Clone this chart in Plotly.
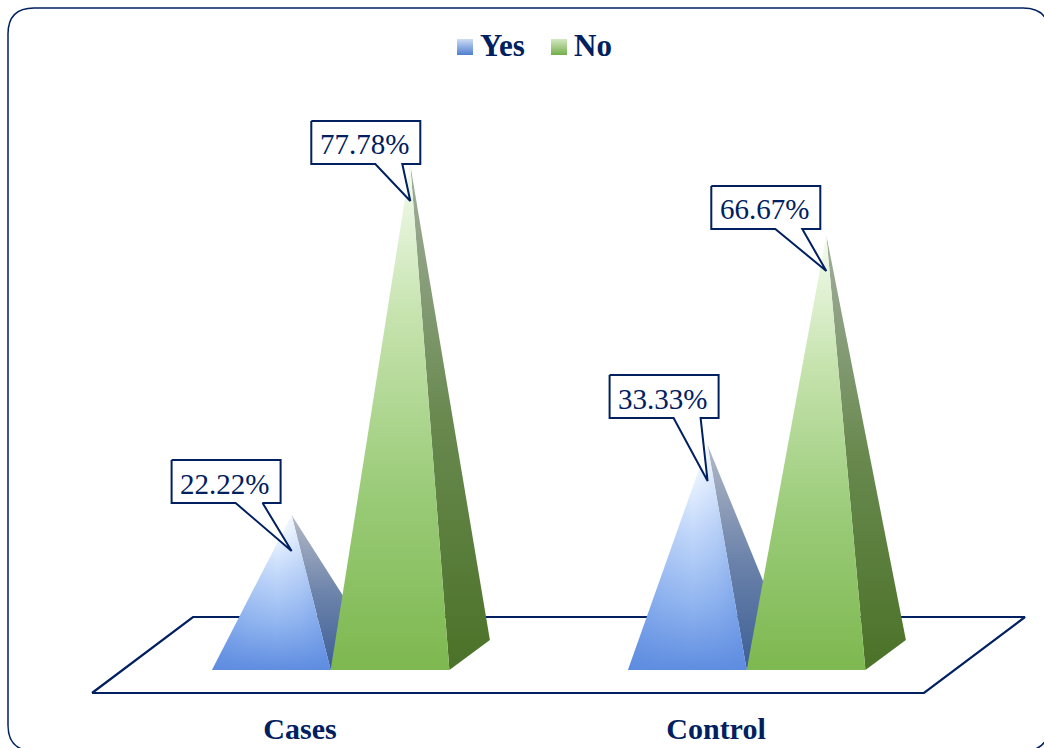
import plotly.graph_objects as go

# Chart data
categories = ["Cases", "Control"]
series_names = ["Yes", "No"]
yes_values = [22.22, 33.33]
no_values = [77.78, 66.67]

NAVY = "#002060"
W, H = 1044, 748

# Axis scales: pixels per category step and pixels per percentage point
X_SCALE = 416.0
Y_SCALE = 6.3
X_ORIGIN_PX = 300.0
Y_ORIGIN_PX = 655.0


def dx(px):
    return px / X_SCALE


def dy(px):
    return px / Y_SCALE


def abs_x(px):
    return (px - X_ORIGIN_PX) / X_SCALE


def abs_y(px):
    return (Y_ORIGIN_PX - px) / Y_SCALE


# Pyramid and floor proportions
BAR_WIDTH = dx(118.7)
BAR_SHIFT = dx(-88)
DEPTH_X = dx(40.5)
DEPTH_Y = dy(30)
FLOOR_DEPTH_X = dx(101)
FLOOR_HALF_Y = dy(38)

STYLE = {
    "Yes": {
        "front": [[0, "#5f8de0"], [0.3, "#92b6f0"], [0.65, "#c8dcfb"], [0.88, "#eef6ff"], [1, "#ffffff"]],
        "side": [[0, "#3c5e96"], [0.5, "#6d84ab"], [1, "#b4b9c6"]],
        "edge": "rgba(91,137,224,0.45)",
        "swatch": [[0, "#4f7fcf"], [1, "#cddcf3"]],
    },
    "No": {
        "front": [[0, "#7eb850"], [0.35, "#9acb78"], [0.7, "#c6e3ae"], [0.93, "#e9f6e0"], [1, "#f6fcf2"]],
        "side": [[0, "#4b7228"], [0.5, "#69894f"], [1, "#a2ae9e"]],
        "edge": None,
        "swatch": [[0, "#74ae4c"], [1, "#d3e8c2"]],
    },
}

# Callout box placement relative to its pointer tip: (left, top) in pixels
CALLOUT_OFFSETS = {
    ("Cases", "Yes"): (-120, -91),
    ("Cases", "No"): (-99, -80),
    ("Control", "Yes"): (-98, -106),
    ("Control", "No"): (-115, -85),
}
BOX_W, BOX_H = 109, 43
WEDGE_LEFT, WEDGE_RIGHT = 64, 91
TIP_DROP = dy(36)

fig = go.Figure()


def polygon(xs, ys, **kw):
    fig.add_trace(go.Scatter(x=xs, y=ys, hoverinfo="skip", showlegend=False, **kw))


# Floor
floor_x = [-0.5, 1.5, 1.5 + FLOOR_DEPTH_X, -0.5 + FLOOR_DEPTH_X, -0.5]
floor_y = [-FLOOR_HALF_Y, -FLOOR_HALF_Y, FLOOR_HALF_Y, FLOOR_HALF_Y, -FLOOR_HALF_Y]
polygon(floor_x, floor_y, mode="lines", line=dict(color=NAVY, width=2.2), fill="toself", fillcolor="white")


def pyramid(left, value, style):
    right = left + BAR_WIDTH
    front_y = -DEPTH_Y / 2
    apex_x = left + BAR_WIDTH / 2 + DEPTH_X / 2
    # Side face
    polygon(
        [right, right + DEPTH_X, apex_x, right],
        [front_y, front_y + DEPTH_Y, value, front_y],
        mode="none", fill="toself",
        fillgradient=dict(type="vertical", colorscale=style["side"]),
    )
    # Front face
    polygon(
        [left, right, apex_x, left],
        [front_y, front_y, value, front_y],
        mode="none", fill="toself",
        fillgradient=dict(type="vertical", colorscale=style["front"]),
    )
    if style["edge"]:
        # Corners of the front face deepen toward the base edges
        polygon(
            [left, right, apex_x, left],
            [front_y, front_y, value, front_y],
            mode="none", fill="toself",
            fillgradient=dict(
                type="horizontal",
                colorscale=[[0, style["edge"]], [0.3, "rgba(91,137,224,0.12)"],
                            [0.55, "rgba(91,137,224,0)"], [0.75, "rgba(91,137,224,0.12)"],
                            [1, style["edge"]]],
            ),
        )


for i, cat in enumerate(categories):
    left = i + BAR_SHIFT
    pyramid(left, yes_values[i], STYLE["Yes"])
    pyramid(left + BAR_WIDTH, no_values[i], STYLE["No"])


def callout(cat, name, tip_x, tip_y, value):
    ox, oy = CALLOUT_OFFSETS[(cat, name)]
    bx, by = tip_x + dx(ox), tip_y - dy(oy)
    r, b = bx + dx(BOX_W), by - dy(BOX_H)
    xs = [bx, r, r, bx + dx(WEDGE_RIGHT), tip_x, bx + dx(WEDGE_LEFT), bx, bx]
    ys = [by, by, b, b, tip_y, b, b, by]
    polygon(xs, ys, mode="lines", line=dict(color=NAVY, width=2), fill="toself", fillcolor="white")
    fig.add_annotation(
        x=(bx + r) / 2, y=(by + b) / 2, text=f"{value:.2f}%", showarrow=False,
        font=dict(family="Liberation Serif", size=29, color=NAVY),
        xanchor="center", yanchor="middle", xshift=-1.5, yshift=-2,
    )


for i, cat in enumerate(categories):
    apex_offset = BAR_WIDTH / 2 + DEPTH_X / 2
    left = i + BAR_SHIFT
    callout(cat, "Yes", left + apex_offset, yes_values[i] - TIP_DROP, yes_values[i])
    callout(cat, "No", left + BAR_WIDTH + apex_offset, no_values[i] - TIP_DROP, no_values[i])

# Legend entries
legend_x = {"Yes": (457, 478), "No": (551, 572)}
for name in series_names:
    sx, tx = legend_x[name]
    x0, x1 = abs_x(sx), abs_x(sx + 16)
    y0, y1 = abs_y(55), abs_y(39)
    polygon([x0, x1, x1, x0, x0], [y0, y0, y1, y1, y0], mode="none", fill="toself",
            fillgradient=dict(type="vertical", colorscale=STYLE[name]["swatch"]))
    fig.add_annotation(
        x=abs_x(tx), y=abs_y(45), text=f"<b>{name}</b>", showarrow=False,
        font=dict(family="Liberation Serif", size=31, color=NAVY),
        xanchor="left", yanchor="middle",
    )

# Rounded chart frame, running slightly past the lower right of the page
fl, ft, fr, fb, rad = 8 / W, 1 - 8 / H, 1049 / W, 1 - 751 / H, 26
rx, ry = rad / W, rad / H
frame = (
    f"M {fl + rx} {ft} L {fr - rx} {ft} Q {fr} {ft} {fr} {ft - ry} "
    f"L {fr} {fb + ry} Q {fr} {fb} {fr - rx} {fb} "
    f"L {fl + rx} {fb} Q {fl} {fb} {fl} {fb + ry} "
    f"L {fl} {ft - ry} Q {fl} {ft} {fl + rx} {ft} Z"
)

fig.update_layout(
    width=W, height=H,
    margin=dict(l=0, r=0, t=0, b=0),
    paper_bgcolor="white", plot_bgcolor="white",
    showlegend=False,
    shapes=[dict(type="path", xref="paper", yref="paper", path=frame,
                 line=dict(color=NAVY, width=1.5), layer="below")],
    xaxis=dict(
        range=[abs_x(0), abs_x(W)],
        tickmode="array", tickvals=list(range(len(categories))),
        ticktext=[f"<b>{c}</b>" for c in categories],
        tickfont=dict(family="Liberation Serif", size=30, color=NAVY),
        ticks="", showgrid=False, zeroline=False, showline=False,
        anchor="free", position=(H - 708) / H, automargin=False, tickangle=0,
    ),
    yaxis=dict(
        range=[abs_y(H), abs_y(0)], visible=False, showgrid=False, zeroline=False,
    ),
)

fig.write_html("out.html", config=dict(displayModeBar=False))
